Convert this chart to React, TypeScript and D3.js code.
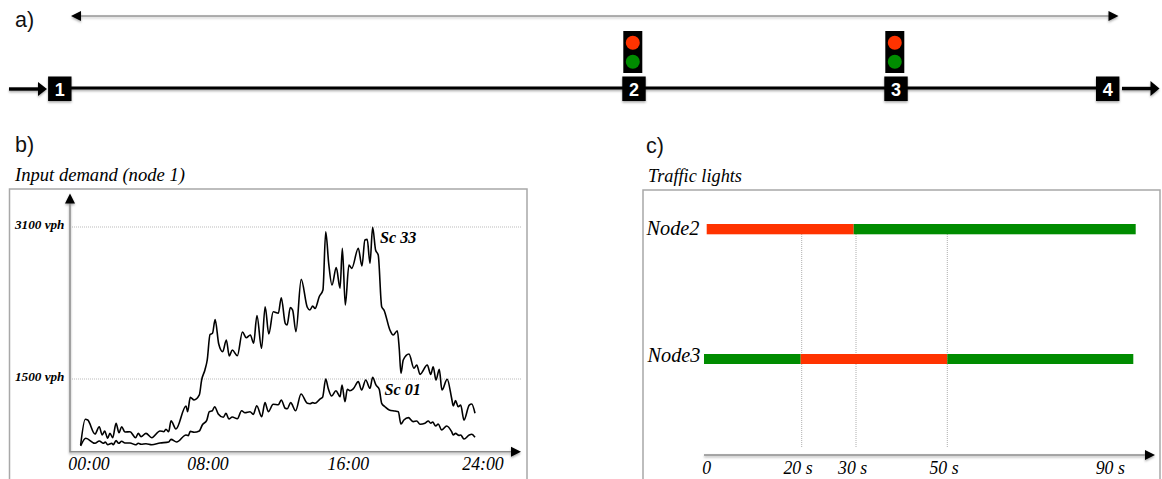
import React from "react";
import * as d3 from "d3";

// ---------- data ----------
const sc33Hours = [0.04,0.32,0.47,0.91,1.17,1.35,1.5,1.68,1.82,1.99,2.19,2.37,2.53,2.73,3.04,3.38,3.54,3.71,4.01,4.36,4.86,5.1,5.22,5.39,5.53,5.83,6.44,6.54,6.7,6.93,7.25,7.39,7.59,7.73,7.9,8.05,8.21,8.43,8.67,8.89,9.07,9.25,9.56,9.87,10.1,10.35,10.55,10.75,11.03,11.25,11.47,11.74,12.05,12.23,12.47,12.58,12.78,12.92,13.12,13.44,13.81,13.97,14.14,14.28,14.54,14.76,14.93,15.11,15.31,15.57,15.8,15.94,16.12,16.34,16.51,16.91,17.13,17.31,17.45,17.62,17.78,17.96,18.12,18.33,18.47,18.83,19.03,19.28,19.4,19.5,19.64,19.99,20.29,20.46,20.66,21.1,21.31,21.46,21.63,21.83,21.99,22.31,22.58,22.68,22.82,22.98,23.13,23.33,23.65,23.8,24];
const sc33Vph = [805,1076,1068,921,998,911,953,876,928,882,1034,935,998,942,945,882,928,893,928,882,953,945,971,945,1061,974,1216,1156,1307,1279,1332,1489,1595,1700,1968,1981,2125,1868,1787,1911,1742,1805,1745,1995,1934,1963,1876,2169,1823,2261,1974,2208,2192,2356,2086,2068,2251,2226,1998,2549,2255,2226,2268,2242,2368,2437,3050,2718,2489,2672,2455,2876,2279,2700,2665,2876,2689,2963,2970,2718,3097,2858,2805,2261,2226,2016,1963,2008,1813,1560,1700,1763,1613,1647,1549,1647,1549,1629,1489,1602,1384,1497,1297,1216,1272,1208,1226,1068,1226,1237,1139];
const sc01Hours = [0.04,0.35,0.91,1.17,1.42,1.54,1.68,1.93,2.02,2.19,2.35,2.53,2.73,3.04,3.38,3.54,3.71,4.01,4.36,4.86,5.39,5.53,5.87,6.44,6.58,6.7,6.93,7.25,7.43,7.7,7.86,8.04,8.18,8.4,8.71,8.87,9.05,9.25,9.56,9.82,10.02,10.33,10.53,10.74,11.04,11.24,11.44,11.74,12.05,12.23,12.47,12.59,12.8,13.1,13.43,13.81,13.97,14.14,14.28,14.58,14.74,14.93,15.08,15.29,15.55,15.8,15.92,16.1,16.24,16.4,16.6,16.91,17.11,17.36,17.62,17.78,17.98,18.18,18.33,18.53,18.79,19.14,19.34,19.5,19.68,19.95,20.25,20.46,20.66,20.96,21.16,21.31,21.43,21.61,21.77,21.97,22.28,22.58,22.68,22.82,23.02,23.13,23.33,23.65,23.8,24];
const sc01Vph = [795,876,823,847,823,837,808,823,808,851,823,844,826,826,808,823,813,819,808,826,837,865,837,911,903,949,939,953,1016,1065,1156,1166,1208,1132,1097,1139,1079,1100,1082,1166,1145,1156,1128,1219,1103,1251,1156,1234,1229,1279,1192,1187,1251,1166,1342,1244,1240,1251,1244,1289,1307,1500,1402,1321,1377,1314,1437,1261,1392,1377,1395,1472,1384,1489,1402,1518,1437,1392,1244,1208,1174,1163,1156,1026,1068,1093,1051,1058,1023,1034,1058,1034,1047,1005,1026,963,1005,945,911,928,907,911,868,911,918,886];
const demandTicks = [1500, 3100];
const demandTickLabels = ["1500 vph", "3100 vph"];
const hourTicks = [0, 8, 16, 24];
const hourTickLabels = ["00:00", "08:00", "16:00", "24:00"];
const node2Phases = [[0, 30, "red"], [30, 90, "green"]] as const;
const node3Phases = [[0, 20, "green"], [20, 50, "red"], [50, 90, "green"]] as const;
const cycleMarks = [20, 30, 50];
const cycleTicks = [0, 20, 30, 50, 90];
const cycleTickLabels = ["0", "20 s", "30 s", "50 s", "90 s"];
const nodeIds = ["1", "2", "3", "4"];
const signalNodes = ["2", "3"];

// ---------- styling ----------
const RED = "#ff3300";
const GREEN = "#008c00";
const SERIF = "'Liberation Serif', serif";
const SANS = "'Liberation Sans', sans-serif";
const AXIS = "#8c8c8c";

// ---------- scales ----------
const x = d3.scaleLinear().domain([0, 24]).range([80, 475]);
const y = d3.scaleLinear().domain([1500, 3100]).range([379, 227]);
const hourLabelX = d3.scaleLinear().domain(hourTicks).range([89, 208, 348.3, 483]);
const node2X = d3.scaleLinear().domain([0, 30, 90]).range([706.7, 853.7, 1135.7]);
const node3X = d3.scaleLinear().domain([0, 20, 50, 90]).range([704, 800.7, 947.3, 1133.3]);
const markX = d3.scaleLinear().domain([20, 30, 50]).range([801.7, 856, 947.3]);
const cycleLabelX = d3.scaleLinear().domain(cycleTicks).range([706.7, 798, 852.7, 944, 1110.3]);
const nodeCentre: Record<string, number> = { "1": 59.8, "2": 634, "3": 896, "4": 1107.7 };
const demandLine = d3.line<[number, number]>().x((d) => x(d[0])).y((d) => y(d[1])).curve(d3.curveMonotoneX);

const pairs = (a: number[], b: number[]) => a.map((h, i) => [h, b[i]] as [number, number]);

function Arrow({ x: tx, y: ty, dir, size = 10, span = 10 }: { x: number; y: number; dir: "l" | "r" | "u"; size?: number; span?: number }) {
  const h = span / 2;
  const pts =
    dir === "r" ? [[tx, ty], [tx - size, ty - h], [tx - size, ty + h]]
    : dir === "l" ? [[tx, ty], [tx + size, ty - h], [tx + size, ty + h]]
    : [[tx, ty], [tx - h, ty + size], [tx + h, ty + size]];
  return <polygon points={pts.map((p) => p.join(",")).join(" ")} fill="#000" />;
}

export default function App() {
  return (
    <svg width={1162} height={479} style={{ position: "absolute", left: 0, top: 0, background: "#fff" }}>
      <defs>
        <filter id="sh" x="-30%" y="-30%" width="160%" height="180%">
          <feDropShadow dx="0" dy="1.5" stdDeviation="1.3" floodColor="#000" floodOpacity="0.35" />
        </filter>
      </defs>

      {/* panel letters */}
      <g fontFamily={SANS} fontSize={21.5} fill="#111">
        <text x={15} y={27}>a)</text>
        <text x={15} y={152}>b)</text>
        <text x={646} y={152.5}>c)</text>
      </g>

      {/* a) corridor */}
      <g filter="url(#sh)">
        <line x1={78} x2={1110} y1={16} y2={16} stroke="#666" strokeWidth={1} />
        <Arrow x={71} y={16} dir="l" />
        <Arrow x={1118.5} y={16} dir="r" />
      </g>
      <g filter="url(#sh)">
        <line x1={60} x2={1107} y1={88} y2={88} stroke="#000" strokeWidth={3.2} />
        <line x1={9} x2={40} y1={89} y2={89} stroke="#000" strokeWidth={3.4} />
        <Arrow x={47} y={89} dir="r" size={9} span={14} />
        <line x1={1122} x2={1152} y1={88.5} y2={88.5} stroke="#000" strokeWidth={3.4} />
        <Arrow x={1159.5} y={88.5} dir="r" size={9} span={15} />
      </g>
      {signalNodes.map((n) => (
        <g key={n}>
          <rect x={nodeCentre[n] - 10.7} y={31} width={19} height={42} fill="#000" />
          <circle cx={nodeCentre[n] - 1.2} cy={42.7} r={7} fill={RED} />
          <circle cx={nodeCentre[n] - 1.2} cy={61.7} r={7} fill={GREEN} />
        </g>
      ))}
      {nodeIds.map((n) => (
        <g key={n}>
          <rect x={nodeCentre[n] - 11.7} y={76.5} width={23.4} height={24.5} fill="#000" filter="url(#sh)" />
          <text x={nodeCentre[n]} y={96} fontFamily={SANS} fontWeight={700} fontSize={18} fill="#fff" textAnchor="middle">{n}</text>
        </g>
      ))}

      {/* b) input demand */}
      <text x={15} y={181} fontFamily={SERIF} fontStyle="italic" fontSize={18.6} fill="#000">Input demand (node 1)</text>
      <path d="M9.5,479 V189 H527 V479" fill="none" stroke="#a8a8a8" strokeWidth={1.5} />
      {demandTicks.map((t, i) => (
        <g key={t}>
          <line x1={72} x2={522} y1={y(t)} y2={y(t)} stroke="#aaa" strokeWidth={0.8} strokeDasharray="1 1" />
          <text x={15} y={y(t) + 2} fontFamily={SERIF} fontStyle="italic" fontWeight={700} fontSize={13.2} fill="#000">{demandTickLabels[i]}</text>
        </g>
      ))}
      <g filter="url(#sh)">
        <path d="M70,203 V451.7 H511" fill="none" stroke={AXIS} strokeWidth={1.5} />
        <Arrow x={70} y={193.5} dir="u" />
        <Arrow x={521} y={451.7} dir="r" />
      </g>
      <path d={demandLine(pairs(sc33Hours, sc33Vph)) ?? ""} fill="none" stroke="#000" strokeWidth={1.6} strokeLinejoin="round" />
      <path d={demandLine(pairs(sc01Hours, sc01Vph)) ?? ""} fill="none" stroke="#000" strokeWidth={1.6} strokeLinejoin="round" />
      <g fontFamily={SERIF} fontStyle="italic" fontWeight={700} fontSize={16.2} fill="#000">
        <text x={380} y={242.5}>Sc 33</text>
        <text x={384.5} y={395}>Sc 01</text>
      </g>
      {hourTicks.map((t, i) => (
        <text key={t} x={hourLabelX(t)} y={470} textAnchor="middle" fontFamily={SERIF} fontStyle="italic" fontSize={17.8} fill="#000">{hourTickLabels[i]}</text>
      ))}

      {/* c) traffic lights */}
      <text x={648} y={182} fontFamily={SERIF} fontStyle="italic" fontSize={18.3} fill="#000">Traffic lights</text>
      <path d="M643,479 V190 H1160 V479" fill="none" stroke="#a8a8a8" strokeWidth={1.5} />
      {cycleMarks.map((m) => (
        <line key={m} x1={markX(m)} x2={markX(m)} y1={234} y2={448} stroke="#999" strokeWidth={0.8} strokeDasharray="1 1" />
      ))}
      {node2Phases.map(([a, b, c]) => (
        <rect key={a} x={node2X(a)} y={224} width={node2X(b) - node2X(a)} height={10.3} fill={c === "red" ? RED : GREEN} />
      ))}
      {node3Phases.map(([a, b, c]) => (
        <rect key={a} x={node3X(a)} y={354} width={node3X(b) - node3X(a)} height={10} fill={c === "red" ? RED : GREEN} />
      ))}
      <g fontFamily={SERIF} fontStyle="italic" fontSize={20.3} fill="#000">
        <text x={646.5} y={235}>Node2</text>
        <text x={647.5} y={362}>Node3</text>
      </g>
      <g filter="url(#sh)">
        <line x1={704} x2={1146} y1={455} y2={455} stroke={AXIS} strokeWidth={1.5} />
        <Arrow x={1155} y={455} dir="r" />
      </g>
      {cycleTicks.map((t, i) => (
        <text key={t} x={cycleLabelX(t)} y={473.5} textAnchor="middle" fontFamily={SERIF} fontStyle="italic" fontSize={17.8} fill="#000">{cycleTickLabels[i]}</text>
      ))}
    </svg>
  );
}
